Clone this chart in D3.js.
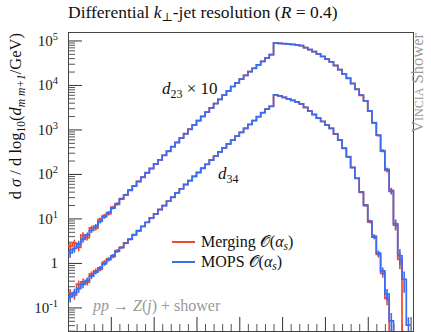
<!DOCTYPE html>
<html>
<head>
<meta charset="utf-8">
<script src="https://cdn.jsdelivr.net/npm/d3@7"></script>
<style>
  body { margin: 0; background: #fff; }
  svg text { font-family: "Liberation Serif", "DejaVu Serif", serif; }
</style>
</head>
<body>
<div id="chart"></div>
<script>
const width = 431, height = 332;
const plot = { left: 68, top: 32, right: 414, bottom: 331 };

// log10(d) binning, 0.05 wide
const binWidth = 0.05;
const binLow = d3.range(80).map(i => i * binWidth);

// d23 (scaled by 10), MOPS and Merging
const mopsD23 = [1.67,2.11,2.67,3.37,4.25,5.36,6.76,8.53,10.8,13.6,
  17.1,21.6,27.2,34.1,42.8,53.7,67.3,84.5,106,133,
  166,208,261,327,408,512,641,802,1005,1256,
  1574,1963,2449,3055,3811,4753,5929,7396,9226,11190,
  13550,16410,19860,23710,28310,33810,40360,47860,87900,86300,
  84500,83000,81300,79400,76900,69200,62400,56200,50100,43600,
  38000,33100,27400,22000,17600,14100,10800,7980,5920,4390,
  2630,1400,745,327,126,40.6,7.6,1.45,0.43,0.04];
const mergingD23 = [2.36,2.78,2.22,4.24,3.70,6.15,6.02,9.57,11.6,12.7,
  17.9,20.6,27.8,33.5,43.5,53.0,68.4,83.6,107,131,
  168,206,263,322,412,506,648,795,1012,1248,
  1582,1955,2460,3040,3825,4740,5945,7380,9240,11170,
  13580,16380,19900,23680,28350,33760,40420,47800,87800,86400,
  84400,83100,81200,79500,76800,69300,62300,56300,50000,43700,
  37900,33200,27300,22100,17500,14200,10700,8050,5850,4420,
  2580,1420,730,335,120,42.5,7.1,1.2,0.02,null];

// d34, MOPS and Merging
const mopsD34 = [0.173,0.214,0.265,0.328,0.406,0.504,0.622,0.771,0.955,1.18,
  1.46,1.81,2.24,2.77,3.44,4.28,5.31,6.59,8.20,10.2,
  12.6,15.7,19.5,24.3,30.1,37.4,46.5,57.4,71.0,87.7,
  108,134,165,204,252,312,385,471,577,706,
  863,1057,1294,1585,1936,2371,2884,3311,5957,5662,
  5248,4864,4508,4169,3741,3119,2600,2163,1803,1507,
  1259,1052,794,575,380,240,141,79.4,39.8,19.5,
  8.71,3.80,1.66,0.66,0.20,0.05,0.01,null,null,null];
const mergingD34 = [0.208,0.191,0.334,0.377,0.370,0.566,0.667,0.719,1.05,1.24,
  1.39,1.90,2.21,2.83,3.40,4.33,5.26,6.66,8.10,10.3,
  12.5,15.9,19.3,24.6,29.8,37.8,46.0,58.0,70.5,88.5,
  107,135,164,206,250,314,383,474,574,710,
  860,1062,1290,1590,1930,2380,2870,3320,5950,5670,
  5240,4870,4500,4175,3735,3125,2590,2170,1795,1512,
  1252,1058,788,580,374,245,138,81,38.5,20.2,
  8.3,4.0,1.55,0.58,0.16,0.02,null,null,null,null];

// relative statistical errors
const errD23 = [0.22,0.2,0.18,0.16,0.14,0.12,0.11,0.1,0.09,0.08,
  0.07,0.06,0.05,0.05,0.04,0.04,0.03,0.03,0.03,0.02,
  0.02,0.02,0.02,0.02,0.02,0.02,0.02,0.02,0.02,0.02,
  0.02,0.02,0.02,0.02,0.02,0.02,0.02,0.02,0.02,0.02,
  0.02,0.02,0.02,0.02,0.02,0.02,0.02,0.02,0.02,0.02,
  0.02,0.02,0.02,0.02,0.02,0.02,0.02,0.02,0.02,0.02,
  0.02,0.02,0.02,0.02,0.02,0.02,0.02,0.02,0.02,0.02,
  0.03,0.04,0.05,0.07,0.1,0.15,0.25,0.4,0.5,0.5];
const errD34 = [0.25,0.22,0.2,0.18,0.16,0.14,0.12,0.11,0.1,0.09,
  0.08,0.07,0.06,0.05,0.05,0.04,0.04,0.03,0.03,0.03,
  0.02,0.02,0.02,0.02,0.02,0.02,0.02,0.02,0.02,0.02,
  0.02,0.02,0.02,0.02,0.02,0.02,0.02,0.02,0.02,0.02,
  0.02,0.02,0.02,0.02,0.02,0.02,0.02,0.02,0.02,0.02,
  0.02,0.02,0.02,0.02,0.02,0.02,0.02,0.02,0.02,0.02,
  0.02,0.02,0.02,0.02,0.02,0.02,0.02,0.02,0.04,0.05,
  0.07,0.1,0.15,0.2,0.3,0.5,0.5,0.5,0.5,0.5];

const yMajor = [1e-1, 1, 1e1, 1e2, 1e3, 1e4, 1e5];
const xMajor = [0.5, 1, 1.5, 2, 2.5, 3, 3.5, 4];

const colMerging = "#ef4a2b";
const colMops = "#3a6cf2";

const svg = d3.select("#chart").append("svg")
    .attr("width", width)
    .attr("height", height);

const x = d3.scaleLinear().domain([0, 4.04]).range([plot.left, plot.right]);
const y = d3.scaleLog().domain([Math.pow(10, -1.53), Math.pow(10, 5.19)]).range([plot.bottom, plot.top]);

svg.append("clipPath").attr("id", "clip")
  .append("rect")
    .attr("x", plot.left).attr("y", plot.top)
    .attr("width", plot.right - plot.left).attr("height", plot.bottom - plot.top);

// y axis: majors with labels, minors without
const yMinor = y.ticks(20).filter(t => yMajor.indexOf(t) < 0);
svg.append("g")
    .attr("transform", `translate(${plot.left},0)`)
    .call(d3.axisLeft(y).tickValues(yMinor).tickSizeInner(-7).tickSizeOuter(0).tickFormat(""))
    .call(g => g.select(".domain").remove())
    .call(g => g.selectAll("line").attr("stroke", "#555"));

const yAx = svg.append("g")
    .attr("transform", `translate(${plot.left},0)`)
    .call(d3.axisLeft(y).tickValues(yMajor).tickSizeInner(-14).tickSizeOuter(0).tickPadding(10).tickFormat(""))
    .call(g => g.select(".domain").remove())
    .call(g => g.selectAll("line").attr("stroke", "#333"));

yAx.selectAll(".tick text").each(function(d) {
  const t = d3.select(this)
      .attr("font-size", 15)
      .attr("fill", "#222")
      .attr("font-family", "Liberation Serif, serif");
  const p = Math.round(Math.log10(d));
  if (p === 0) { t.text("1"); return; }
  t.text("10");
  t.append("tspan").attr("font-size", 10.5).attr("dy", -6).text(p);
});

// x axis ticks (labels fall below the picture)
const xMinor = d3.range(1, 41).map(i => i / 10).filter(v => Math.abs(v * 2 - Math.round(v * 2)) > 1e-6);
svg.append("g")
    .attr("transform", `translate(0,${plot.bottom})`)
    .call(d3.axisBottom(x).tickValues(xMinor).tickSizeInner(-7).tickSizeOuter(0).tickFormat(""))
    .call(g => g.select(".domain").remove())
    .call(g => g.selectAll("line").attr("stroke", "#555"));
svg.append("g")
    .attr("transform", `translate(0,${plot.bottom})`)
    .call(d3.axisBottom(x).tickValues(xMajor).tickSizeInner(-14).tickSizeOuter(0).tickFormat(""))
    .call(g => g.select(".domain").remove())
    .call(g => g.selectAll("line").attr("stroke", "#333"));

// frame
svg.append("rect")
    .attr("x", plot.left + 0.5).attr("y", plot.top + 0.5)
    .attr("width", plot.right - plot.left - 1).attr("height", plot.bottom - plot.top)
    .attr("fill", "none").attr("stroke", "#444").attr("stroke-width", 1);

// histograms
const line = d3.line()
    .defined(d => d.v != null)
    .x(d => x(d.x))
    .y(d => y(d.v));

function stepPoints(values) {
  const pts = [];
  values.forEach((v, i) => {
    if (v == null) { pts.push({ x: binLow[i], v: null }); return; }
    pts.push({ x: binLow[i], v: v });
    pts.push({ x: binLow[i] + binWidth, v: v });
  });
  return pts;
}

const layer = svg.append("g").attr("clip-path", "url(#clip)");

function drawHist(values, errs, color) {
  const bars = values.map((v, i) => ({ v: v, e: errs[i], c: binLow[i] + binWidth / 2 }))
      .filter(d => d.v != null && d.v * (1 + d.e) > y.domain()[0]);
  layer.append("g").selectAll("line")
    .data(bars)
    .enter().append("line")
      .attr("x1", d => x(d.c)).attr("x2", d => x(d.c))
      .attr("y1", d => y(Math.max(d.v * (1 - d.e), 1e-3)))
      .attr("y2", d => y(d.v * (1 + d.e)))
      .attr("stroke", color)
      .attr("stroke-width", 1.6);
  layer.append("path")
      .datum(stepPoints(values))
      .attr("d", line)
      .attr("fill", "none")
      .attr("stroke", color)
      .attr("stroke-width", 1.7);
}

drawHist(mergingD23, errD23, colMerging);
drawHist(mergingD34, errD34, colMerging);
drawHist(mopsD23, errD23, colMops);
drawHist(mopsD34, errD34, colMops);

// title
const title = svg.append("text").attr("x", 68).attr("y", 18).attr("font-size", 17.5).attr("fill", "#111");
title.append("tspan").text("Differential ");
title.append("tspan").attr("font-style", "italic").text("k");
title.append("tspan").attr("font-size", 12).attr("dy", 3).text("⊥");
title.append("tspan").attr("dy", -3).text("-jet resolution (");
title.append("tspan").attr("font-style", "italic").text("R");
title.append("tspan").text(" = 0.4)");

// y label
const yl = svg.append("text")
    .attr("transform", "translate(21,33) rotate(-90)")
    .attr("text-anchor", "end")
    .attr("font-size", 16.5)
    .attr("fill", "#111");
yl.append("tspan").text("d ");
yl.append("tspan").attr("font-style", "italic").text("σ");
yl.append("tspan").text(" / d log");
yl.append("tspan").attr("font-size", 11.5).attr("dy", 4).text("10");
yl.append("tspan").attr("dy", -4).text("(");
yl.append("tspan").attr("font-style", "italic").text("d");
yl.append("tspan").attr("font-size", 11.5).attr("font-style", "italic").attr("dy", 4).text("m m+1");
yl.append("tspan").attr("dy", -4).text("/GeV)");

// right side label
const rl = svg.append("text")
    .attr("transform", "translate(423,33) rotate(-90)")
    .attr("text-anchor", "end")
    .attr("font-size", 16.5)
    .attr("fill", "#999");
rl.append("tspan").style("font-variant", "small-caps").text("Vincia");
rl.append("tspan").text(" Shower");

// curve labels
const l23 = svg.append("text").attr("x", 162).attr("y", 94).attr("font-size", 17).attr("fill", "#111");
l23.append("tspan").attr("font-style", "italic").text("d");
l23.append("tspan").attr("font-size", 12).attr("dy", 4).text("23");
l23.append("tspan").attr("dy", -4).text(" × 10");

const l34 = svg.append("text").attr("x", 218).attr("y", 179).attr("font-size", 17).attr("fill", "#111");
l34.append("tspan").attr("font-style", "italic").text("d");
l34.append("tspan").attr("font-size", 12).attr("dy", 4).text("34");

// legend
const legendItems = [
  { name: "Merging ", color: colMerging, y: 242 },
  { name: "MOPS ", color: colMops, y: 262 }
];
legendItems.forEach(d => {
  svg.append("line")
      .attr("x1", 172).attr("x2", 195)
      .attr("y1", d.y).attr("y2", d.y)
      .attr("stroke", d.color).attr("stroke-width", 2);
  const t = svg.append("text").attr("x", 201).attr("y", d.y + 5).attr("font-size", 16).attr("fill", "#111");
  t.append("tspan").text(d.name);
  t.append("tspan").text("𝒪(");
  t.append("tspan").attr("font-style", "italic").text("α");
  t.append("tspan").attr("font-style", "italic").attr("font-size", 11.5).attr("dy", 3).text("s");
  t.append("tspan").attr("dy", -3).text(")");
});

// process label
const proc = svg.append("text").attr("x", 93).attr("y", 311).attr("font-size", 16).attr("fill", "#999");
proc.append("tspan").attr("font-style", "italic").text("pp");
proc.append("tspan").text(" → ");
proc.append("tspan").attr("font-style", "italic").text("Z");
proc.append("tspan").text("(");
proc.append("tspan").attr("font-style", "italic").text("j");
proc.append("tspan").text(") + shower");
</script>
</body>
</html>
